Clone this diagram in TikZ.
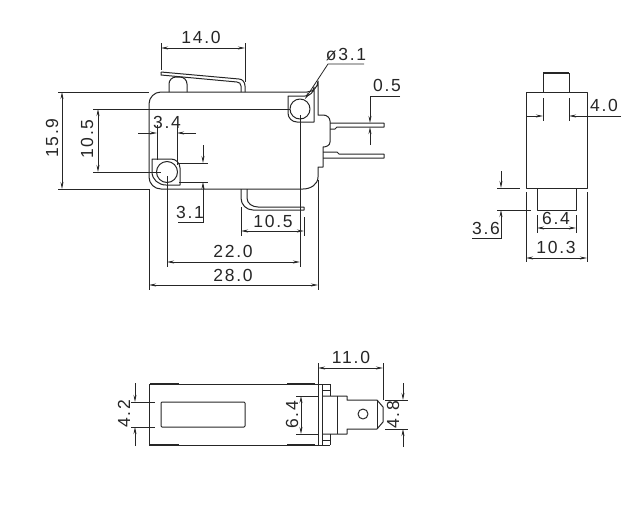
\documentclass[tikz,border=0pt]{standalone}
\usepackage{fontspec}
\setmainfont{Liberation Sans}
\usetikzlibrary{arrows.meta}
\tikzset{
  part/.style={line width=1pt,line join=round,black!85},
  thick part/.style={line width=1.7pt,black!85},
  dimline/.style={line width=0.8pt,black!85},
  dimarrow/.style={dimline,-{Stealth[length=7pt,width=3pt]}},
  dimboth/.style={dimline,{Stealth[length=7pt,width=3pt]}-{Stealth[length=7pt,width=3pt]}},
  dimlabel/.style={inner sep=0pt,black!85,font=\fontsize{17.5}{17.5}\selectfont\addfontfeature{LetterSpace=10}},
}
\begin{document}
\begin{tikzpicture}[x=1pt,y=-1pt]
  \useasboundingbox (0,0) rectangle (640,512);
  % side view
  \draw[part] (161,92)--(307,92) arc[start angle=90,end angle=0,radius=11] --(318,115)--(323,115)
    to[out=0,in=90] (330,121)--(330,142) to[out=270,in=0] (323,147)--(323,167)--(318,167)--(318,177)
    to[out=270,in=0] (303,189)--(161,189) arc[start angle=90,end angle=180,radius=12]
    --(149,104) arc[start angle=180,end angle=270,radius=12];
  \draw[part] (288,96)--(305,96) arc[start angle=90,end angle=0,radius=9] --(314,122)--(297,122)
    arc[start angle=90,end angle=180,radius=9] --cycle;
  \draw[part] (300,109) circle[radius=10];
  \draw[part] (152,159)--(171,159) to[out=0,in=90] (180,168)--(180,185)--(166,185)
    to[out=180,in=270] (152,172)--cycle;
  \draw[part] (167,172) circle[radius=10.5];
  % lever and roller
  \draw[part] (161,72)--(239,79) to[out=0,in=90] (245,86)--(245,92);
  \draw[part] (161,72)--(161,75)--(237,82) to[out=0,in=90] (241,86)--(241,92);
  \draw[part] (169,92)--(169,84) to[out=90,in=180] (176,77)--(180,77) to[out=0,in=90] (187,84)--(187,92);
  \draw[part] (241,189)--(241,198) to[out=270,in=180] (253,210)--(304,210)--(304,207)--(258,207)
    to[out=180,in=270] (247,198)--(247,189);
  % terminals
  \draw[part] (330,123)--(384,123)--(384,127)--(337,127)--(335,129)--(330,129);
  \draw[part] (323,152)--(337,152)--(339,154)--(384,154)--(384,158)--(323,158);
  % front dims
  \draw[dimline] (161,43)--(161,70) (245,43)--(245,82);
  \draw[dimboth] (161,48)--(245,48);
  \node[dimlabel] (lab140) at (201,37) {14.0};
  \draw[dimline] (58,92)--(149,92) (58,189)--(149,189);
  \draw[dimboth] (62,92)--(62,189);
  \node[dimlabel,rotate=90] (lab159) at (52,138) {15.9};
  \draw[dimline] (93,109)--(290,109) (93,172)--(161,172);
  \draw[dimboth] (98,109)--(98,172);
  \node[dimlabel,rotate=90] (lab105) at (87,139) {10.5};
  \draw[dimline] (157,125)--(157,160) (177,125)--(177,165);
  \draw[dimarrow] (138,133)--(157,133);
  \draw[dimarrow] (196,133)--(177,133);
  \node[dimlabel] (lab34) at (167,122) {3.4};
  \draw[dimline] (177,163)--(208,163) (179,182)--(208,182);
  \draw[dimarrow] (203,145)--(203,163);
  \draw[dimarrow] (178,222)--(203,222)--(203,182);
  \node[dimlabel] (lab31) at (190,212) {3.1};
  \draw[dimline] (241,207)--(241,236) (304,217)--(304,236);
  \draw[dimboth] (241,231)--(304,231);
  \node[dimlabel] (lab105b) at (273,221) {10.5};
  \draw[dimline] (167,176)--(167,267) (300,115)--(300,267);
  \draw[dimboth] (167,262)--(300,262);
  \node[dimlabel] (lab220) at (233,251) {22.0};
  \draw[dimline] (149,189)--(149,290) (318,180)--(318,290);
  \draw[dimboth] (149,285)--(318,285);
  \node[dimlabel] (lab280) at (233,275) {28.0};
  \draw[dimarrow] (364,64)--(328,64)--(305,99);
  \node[dimlabel] (labdia) at (346,55) {ø3.1};
  \draw[dimarrow] (400,96)--(370,96)--(370,123);
  \draw[dimarrow] (370,145)--(370,127);
  \node[dimlabel] (lab05) at (387,85) {0.5};
  % end view
  \draw[part] (526,92) rectangle (587,188);
  \draw[part] (543,92)--(543,73) (569,73)--(569,92);
  \draw[thick part] (543,73)--(569,73);
  \draw[part] (537,188)--(537,210)--(576,210)--(576,188);
  \draw[dimline] (543,98)--(543,121) (569,98)--(569,121);
  \draw[dimarrow] (526,116)--(543,116);
  \draw[dimarrow] (621,116)--(569,116);
  \node[dimlabel] (lab40) at (604,105) {4.0};
  \draw[dimline] (526,192)--(526,262) (587,192)--(587,262);
  \draw[dimline] (537,215)--(537,233) (576,215)--(576,233);
  \draw[dimboth] (537,228)--(576,228);
  \node[dimlabel] (lab64) at (556,218) {6.4};
  \draw[dimboth] (526,258)--(587,258);
  \node[dimlabel] (lab103) at (556,247) {10.3};
  \draw[dimline] (497,188)--(520,188) (497,210)--(531,210);
  \draw[dimarrow] (501,171)--(501,188);
  \draw[dimarrow] (472,238)--(501,238)--(501,210);
  \node[dimlabel] (lab36) at (486,228) {3.6};
  % bottom view
  \draw[part] (149,384)--(330,384) (149,445)--(330,445) (149,384)--(149,445) (318,384)--(318,445);
  \draw[thick part] (150,384)--(179,384) (150,445)--(179,445) (287,384)--(315,384) (287,445)--(315,445);
  \draw[part,rounded corners=1pt] (161,402) rectangle (245,427);
  \draw[part] (322,384)--(322,445) (322,390)--(330,390) (322,440)--(330,440);
  \draw[part] (330,384)--(330,396) (330,434)--(330,445);
  \draw[part] (322,396)--(347,396)--(347,400)--(377,400)--(383,407)--(383,422)--(377,429)--(347,429)--(347,434)--(322,434);
  \draw[part] (337,396)--(337,434) (377,400)--(377,429);
  \draw[part] (363,414) circle[radius=5];
  \draw[dimline] (131,402)--(155,402) (131,427)--(155,427);
  \draw[dimarrow] (135,383)--(135,402);
  \draw[dimarrow] (135,446)--(135,427);
  \node[dimlabel,rotate=90] (lab42) at (124,414) {4.2};
  \draw[dimline] (318,363)--(318,384) (383,363)--(383,400);
  \draw[dimboth] (318,368)--(383,368);
  \node[dimlabel] (lab110) at (351,357) {11.0};
  \draw[dimline] (296,396)--(318,396) (296,434)--(318,434);
  \draw[dimboth] (301,396)--(301,434);
  \node[dimlabel,rotate=90] (lab64b) at (292,415) {6.4};
  \draw[dimline] (385,400)--(408,400) (385,429)--(408,429);
  \draw[dimarrow] (403,383)--(403,400);
  \draw[dimarrow] (403,447)--(403,429);
  \node[dimlabel,rotate=90] (lab48) at (393,415) {4.8};
\end{tikzpicture}
\end{document}
